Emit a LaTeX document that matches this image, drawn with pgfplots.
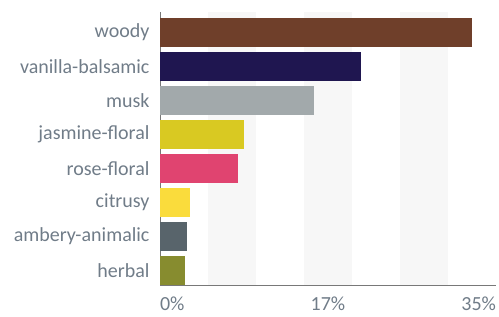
\documentclass[border=0pt]{standalone}
\usepackage{pgfplots}
\pgfplotsset{compat=1.18}
\usepackage{fontspec}
\setmainfont{Carlito}
\definecolor{txt}{RGB}{112,124,136}
\definecolor{axln}{RGB}{120,120,120}
\definecolor{band}{RGB}{247,247,247}
\definecolor{cwoody}{RGB}{111,63,42}
\definecolor{cvan}{RGB}{31,22,80}
\definecolor{cmusk}{RGB}{162,169,171}
\definecolor{cjas}{RGB}{217,201,34}
\definecolor{crose}{RGB}{224,68,112}
\definecolor{ccit}{RGB}{250,220,60}
\definecolor{camb}{RGB}{88,100,107}
\definecolor{cherb}{RGB}{135,140,47}
\begin{document}
\begin{tikzpicture}
\begin{axis}[
  scale only axis,
  width=336pt, height=273pt,
  xmin=0, xmax=35,
  ymin=-0.426, ymax=7.6,
  axis x line=bottom, axis y line=left,
  axis line style={-, axln, line width=1pt},
  xtick={0,17.5,35},
  xticklabels={\makebox[0pt][l]{0\%},17\%,\makebox[0pt][r]{35\%}},
  ytick={0,1,2,3,4,5,6,7},
  yticklabels={herbal,ambery-animalic,citrusy,rose-floral,jasmine-floral,musk,vanilla-balsamic,woody},
  major tick length=0pt,
  tick label style={font=\fontsize{20}{22}\selectfont, text=txt},
  x tick label style={yshift=-8.5pt},
  y tick label style={xshift=-7pt},
  xbar, bar width=29pt, bar shift=0pt,
  clip=false,
]
\fill[band] (axis cs:5,-0.426) rectangle (axis cs:10,7.6);
\fill[band] (axis cs:15,-0.426) rectangle (axis cs:20,7.6);
\fill[band] (axis cs:25,-0.426) rectangle (axis cs:30,7.6);
\addplot[draw=none, fill=cherb] coordinates {(2.6,0)};
\addplot[draw=none, fill=camb] coordinates {(2.8,1)};
\addplot[draw=none, fill=ccit] coordinates {(3.1,2)};
\addplot[draw=none, fill=crose] coordinates {(8.1,3)};
\addplot[draw=none, fill=cjas] coordinates {(8.75,4)};
\addplot[draw=none, fill=cmusk] coordinates {(16.0,5)};
\addplot[draw=none, fill=cvan] coordinates {(20.9,6)};
\addplot[draw=none, fill=cwoody] coordinates {(32.5,7)};
\end{axis}
\pgfresetboundingbox
\path[use as bounding box] ([xshift=-160pt,yshift=-31pt]current axis.south west) rectangle ([xshift=3pt,yshift=12pt]current axis.north east);
\end{tikzpicture}
\end{document}
